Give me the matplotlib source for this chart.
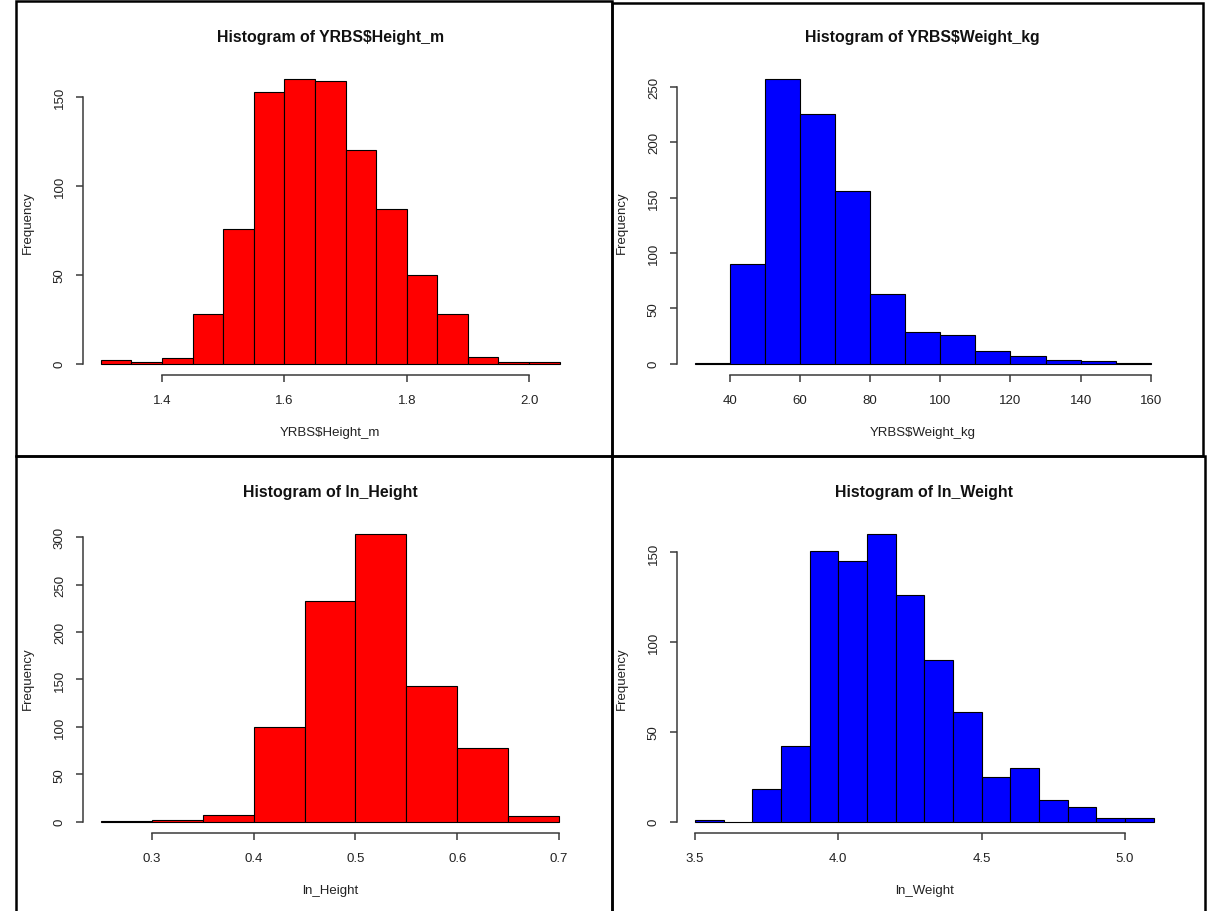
import matplotlib
matplotlib.use('Agg')
import matplotlib.pyplot as plt
from matplotlib.transforms import offset_copy
from matplotlib.patches import Rectangle
import numpy as np

plt.rcParams['font.family'] = ['Liberation Sans', 'DejaVu Sans']

# --- datos (limites de clase y frecuencias) ---
height_edges = [1.30, 1.35, 1.40, 1.45, 1.50, 1.55, 1.60, 1.65, 1.70, 1.75,
                1.80, 1.85, 1.90, 1.95, 2.00, 2.05]
height_counts = [2, 1, 3, 28, 76, 153, 160, 159, 120, 87, 50, 28, 4, 1, 1]

weight_edges = [30, 40, 50, 60, 70, 80, 90, 100, 110, 120, 130, 140, 150, 160]
weight_counts = [1, 90, 257, 226, 156, 63, 29, 26, 11, 7, 3, 2, 1]

ln_height_edges = [0.25, 0.30, 0.35, 0.40, 0.45, 0.50, 0.55, 0.60, 0.65, 0.70]
ln_height_counts = [1, 2, 7, 100, 233, 303, 143, 78, 6]

ln_weight_edges = [3.5, 3.6, 3.7, 3.8, 3.9, 4.0, 4.1, 4.2, 4.3, 4.4, 4.5,
                   4.6, 4.7, 4.8, 4.9, 5.0, 5.1]
ln_weight_counts = [1, 0, 18, 42, 151, 145, 160, 126, 90, 61, 25, 30, 12, 8, 2, 2]

height_xticks = [1.4, 1.6, 1.8, 2.0]
weight_xticks = [40, 60, 80, 100, 120, 140, 160]
ln_height_xticks = [0.3, 0.4, 0.5, 0.6, 0.7]
ln_weight_xticks = [3.5, 4.0, 4.5, 5.0]

height_yticks = [0, 50, 100, 150]
weight_yticks = [0, 50, 100, 150, 200, 250]
ln_height_yticks = [0, 50, 100, 150, 200, 250, 300]
ln_weight_yticks = [0, 50, 100, 150]

W, H = 1215, 912
fig = plt.figure(figsize=(W / 100, H / 100), dpi=100)


def px_axes(x0, y0, x1, y1):
    # caja en pixeles de la imagen -> fracciones de figura
    return fig.add_axes([x0 / W, 1 - y1 / H, (x1 - x0) / W, (y1 - y0) / H])


def histograma(ax, edges, counts, color, title, xlabel, xticks, yticks):
    edges = np.array(edges, dtype=float)
    ax.bar(edges[:-1], counts, width=np.diff(edges), align='edge',
           color=color, edgecolor='black', linewidth=0.8)

    lo, hi = edges[0], edges[-1]
    dx = 0.04 * (hi - lo)
    ymax = max(counts)
    ax.set_xlim(lo - dx, hi + dx)
    ax.set_ylim(-0.04 * ymax, 1.04 * ymax)

    for s in ['top', 'right']:
        ax.spines[s].set_visible(False)
    for s in ['left', 'bottom']:
        ax.spines[s].set_color('#3a3a3a')
        ax.spines[s].set_linewidth(1.1)
    ax.spines['bottom'].set_bounds(xticks[0], xticks[-1])
    ax.spines['left'].set_bounds(yticks[0], yticks[-1])

    ax.set_xticks(xticks)
    ax.set_yticks(yticks)
    ax.set_xticklabels([f'{t:.1f}' if isinstance(t, float) else str(t) for t in xticks])
    ax.tick_params(axis='both', length=5, width=1.1, color='#3a3a3a',
                   labelsize=9.5, labelcolor='#222222')
    ax.tick_params(axis='x', pad=8.5)
    ax.tick_params(axis='y', pad=7, labelrotation=90)
    for lab in ax.get_yticklabels():
        lab.set_va('center')

    ax.text(0.5, 1.0, title, transform=offset_copy(ax.transAxes, fig, x=0, y=31, units='dots'),
            ha='center', va='center', fontsize=11.4, fontweight='bold', color='#111111')
    ax.text(0.5, 0.0, xlabel, transform=offset_copy(ax.transAxes, fig, x=0, y=-57, units='dots'),
            ha='center', va='center', fontsize=9.5, color='#222222')
    ax.text(0.0, 0.5, 'Frequency', transform=offset_copy(ax.transAxes, fig, x=-55, y=0, units='dots'),
            ha='center', va='center', rotation=90, fontsize=9.5, color='#222222')


ax1 = px_axes(82.5, 69, 578, 376)
histograma(ax1, height_edges, height_counts, '#FF0000', 'Histogram of YRBS$Height_m',
           'YRBS$Height_m', height_xticks, height_yticks)

ax2 = px_axes(676.5, 69, 1169, 376)
histograma(ax2, weight_edges, weight_counts, '#0000FF', 'Histogram of YRBS$Weight_kg',
           'YRBS$Weight_kg', weight_xticks, weight_yticks)

ax3 = px_axes(82.5, 524, 577.5, 834)
histograma(ax3, ln_height_edges, ln_height_counts, '#FF0000', 'Histogram of ln_Height',
           'ln_Height', ln_height_xticks, ln_height_yticks)

ax4 = px_axes(676.5, 524, 1172, 834)
histograma(ax4, ln_weight_edges, ln_weight_counts, '#0000FF', 'Histogram of ln_Weight',
           'ln_Weight', ln_weight_xticks, ln_weight_yticks)

# marcos de las capturas
cajas = [(16, 2, 612, 457), (612, 4, 1203, 457), (16, 457, 612, 920), (612, 457, 1205, 920)]
for x0, y0, x1, y1 in cajas:
    fig.add_artist(Rectangle((x0 / W, 1 - y1 / H), (x1 - x0) / W, (y1 - y0) / H,
                             transform=fig.transFigure, fill=False,
                             edgecolor='black', linewidth=1.8))

fig.savefig('out.png', dpi=100)
